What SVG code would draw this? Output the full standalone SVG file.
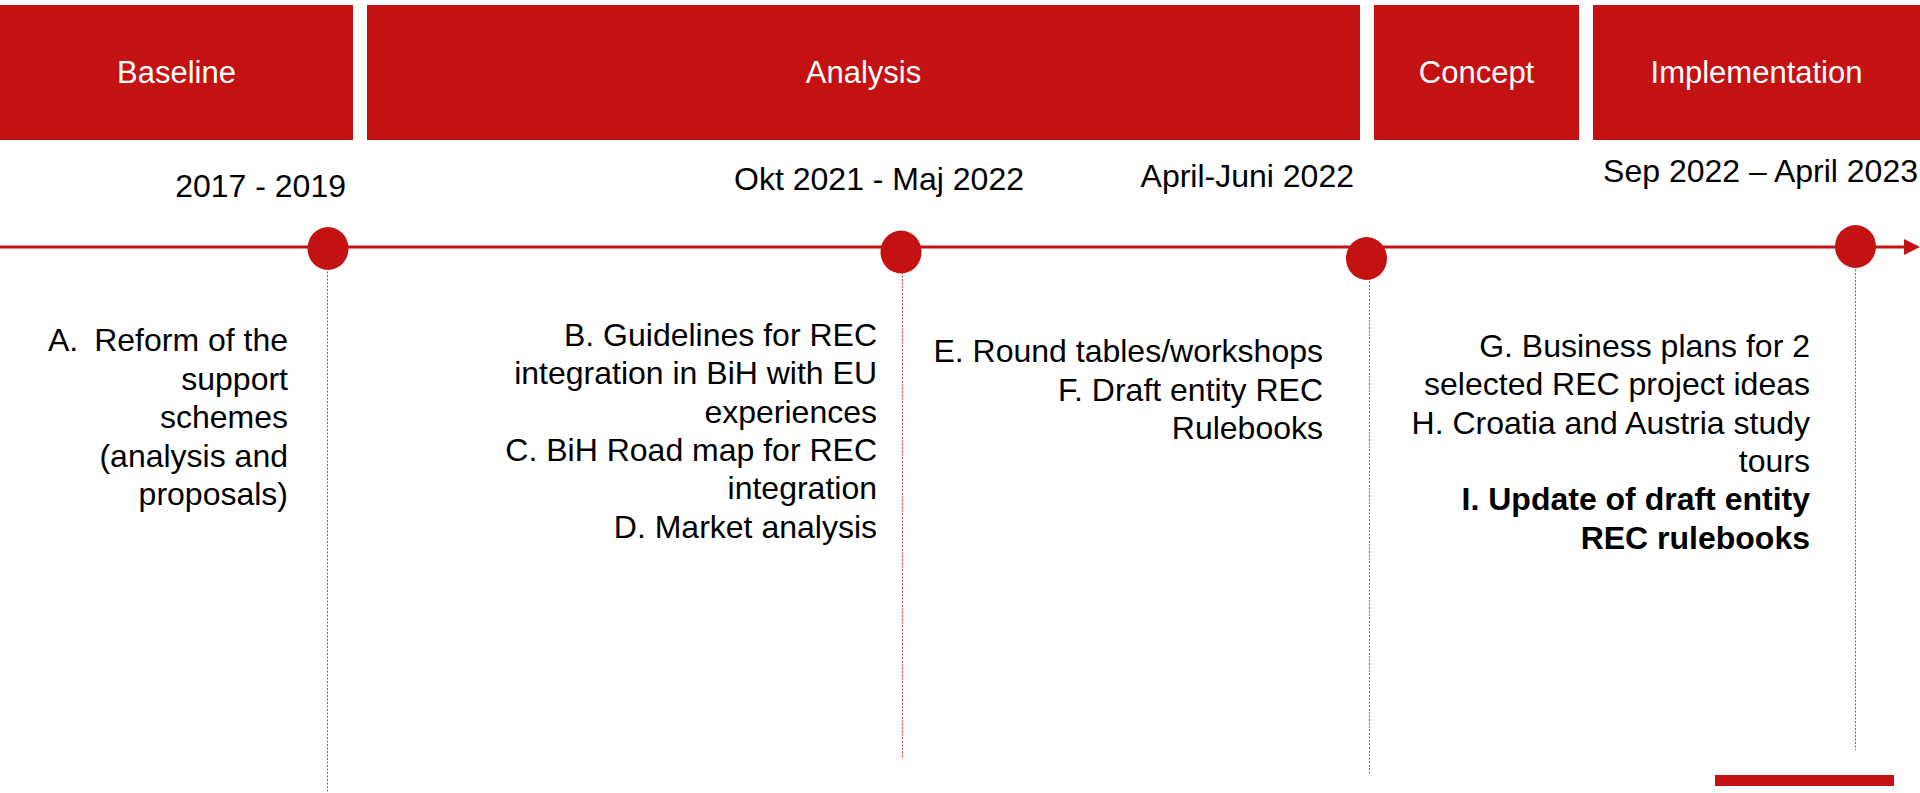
<svg xmlns="http://www.w3.org/2000/svg" width="1920" height="793" viewBox="0 0 1920 793">
  <style>
    .phase { fill: #C41111; }
    .phase-label { font-family: "Liberation Sans", Arial, sans-serif; font-size: 31px; fill: #FFFFFF; text-anchor: middle; }
    .date { font-family: "Liberation Sans", Arial, sans-serif; font-size: 32px; fill: #000000; text-anchor: end; }
    .item { font-family: "Liberation Sans", Arial, sans-serif; font-size: 32px; fill: #000000; text-anchor: end; }
    .item-bold { font-weight: bold; }
    .axis { stroke: #C41111; stroke-width: 3; fill: none; }
    .axis-head { fill: #C41111; }
    .milestone { fill: #C41111; }
    .drop { stroke: #D94545; stroke-width: 1; stroke-dasharray: 2 1.5; fill: none; }
  </style>

  <rect width="1920" height="793" fill="#FFFFFF"/>

  <!-- phase header bars -->
  <g id="phase-baseline">
    <rect class="phase" x="0" y="5" width="353" height="135"/>
    <text class="phase-label" x="176.5" y="83">Baseline</text>
  </g>
  <g id="phase-analysis">
    <rect class="phase" x="367" y="5" width="993" height="135"/>
    <text class="phase-label" x="863.5" y="83">Analysis</text>
  </g>
  <g id="phase-concept">
    <rect class="phase" x="1374" y="5" width="205" height="135"/>
    <text class="phase-label" x="1476.5" y="83">Concept</text>
  </g>
  <g id="phase-implementation">
    <rect class="phase" x="1593" y="5" width="327" height="135"/>
    <text class="phase-label" x="1756.5" y="83">Implementation</text>
  </g>

  <!-- time axis and milestone drop lines -->
  <g id="connectors">
    <line class="axis" x1="0" y1="247" x2="1906" y2="247"/>
    <polygon class="axis-head" points="1904,239 1920,247 1904,255"/>
    <line class="drop" x1="327.5" y1="268" x2="327.5" y2="793"/>
    <line class="drop" x1="902.5" y1="272" x2="902.5" y2="759"/>
    <line class="drop" x1="1369.5" y1="278" x2="1369.5" y2="775"/>
    <line class="drop" x1="1855.5" y1="266" x2="1855.5" y2="750"/>
  </g>

  <!-- milestones -->
  <g id="milestone-1">
    <ellipse class="milestone" cx="328" cy="248.5" rx="20.5" ry="21.5"/>
    <text class="date" x="346" y="197">2017 - 2019</text>
  </g>
  <g id="milestone-2">
    <ellipse class="milestone" cx="901" cy="252" rx="20.5" ry="21.5"/>
    <text class="date" x="1024" y="190">Okt 2021 - Maj 2022</text>
  </g>
  <g id="milestone-3">
    <ellipse class="milestone" cx="1366.5" cy="258.5" rx="20.5" ry="21.5"/>
    <text class="date" x="1354" y="187">April-Juni 2022</text>
  </g>
  <g id="milestone-4">
    <ellipse class="milestone" cx="1855.5" cy="246.5" rx="20.5" ry="21.5"/>
    <text class="date" x="1918" y="182">Sep 2022 – April 2023</text>
  </g>

  <!-- activity lists -->
  <g id="activities-a">
    <text class="item" x="48" y="351" style="text-anchor:start">A.</text>
    <text class="item" x="288" y="351">Reform of the</text>
    <text class="item" x="288" y="389.5">support</text>
    <text class="item" x="288" y="428">schemes</text>
    <text class="item" x="288" y="466.5">(analysis and</text>
    <text class="item" x="288" y="505">proposals)</text>
  </g>
  <g id="activities-b-d">
    <text class="item" x="877" y="345.7">B. Guidelines for REC</text>
    <text class="item" x="877" y="384.1">integration in BiH with EU</text>
    <text class="item" x="877" y="422.5">experiences</text>
    <text class="item" x="877" y="460.9">C. BiH Road map for REC</text>
    <text class="item" x="877" y="499.3">integration</text>
    <text class="item" x="877" y="537.7">D. Market analysis</text>
  </g>
  <g id="activities-e-f">
    <text class="item" x="1323" y="362.3">E. Round tables/workshops</text>
    <text class="item" x="1323" y="400.7">F. Draft entity REC</text>
    <text class="item" x="1323" y="439.1">Rulebooks</text>
  </g>
  <g id="activities-g-i">
    <text class="item" x="1810" y="356.7">G. Business plans for 2</text>
    <text class="item" x="1810" y="395.1">selected REC project ideas</text>
    <text class="item" x="1810" y="433.5">H. Croatia and Austria study</text>
    <text class="item" x="1810" y="471.9">tours</text>
    <text class="item item-bold" x="1810" y="510.3">I. Update of draft entity</text>
    <text class="item item-bold" x="1810" y="548.7">REC rulebooks</text>
  </g>

  <!-- footer accent bar -->
  <rect id="footer-bar" class="phase" x="1715" y="775" width="179" height="11"/>
</svg>
